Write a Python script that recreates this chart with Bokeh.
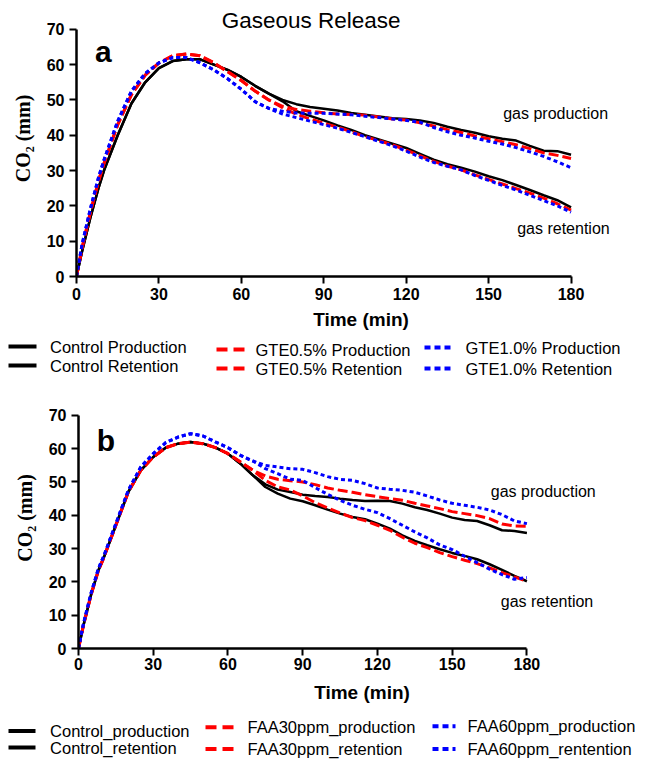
from bokeh.plotting import figure
from bokeh.models import Range1d, FixedTicker, Label
from bokeh.core.properties import value
from bokeh.embed import file_html
from bokeh.resources import INLINE

# ---------------- data ----------------
TIME = [0, 2, 5, 8, 10, 15, 20, 25, 30, 35, 40, 45, 50, 55, 60, 65, 70, 75, 80, 85,
        90, 95, 100, 105, 110, 115, 120, 125, 130, 135, 140, 145, 150, 155, 160, 165,
        170, 175, 180]

# Panel a
A_CTRL_PROD = [0, 7, 16.5, 25, 30, 40, 49, 55, 59, 61, 61.5, 61.5, 60, 58.5, 56.5, 54, 51.8, 50,
               48.8, 48, 47.5, 47, 46.3, 45.8, 45.3, 44.8, 44.6, 44.2, 43.5, 42.4, 41.5, 40.7,
               39.7, 39, 38.5, 37, 35.6, 35.5, 34.5]
A_CTRL_RET = [0, 7, 16.5, 25, 30, 40, 49, 55, 59, 61, 61.5, 61.5, 60, 58.5, 56.5, 54, 51.8, 49.6,
              46.8, 45.5, 44.2, 42.8, 41.5, 40, 38.8, 37.6, 36.4, 34.7, 33.1, 31.8, 30.8, 29.7,
              28.4, 27.3, 25.9, 24.5, 23, 21.6, 19.6]
A_GTE05_PROD = [0, 8, 18, 27, 32, 43, 51.5, 57, 60.5, 62.5, 63, 62.5, 60.5, 58, 55.5, 52.5, 50, 48.2,
                47.3, 46.8, 46.4, 46, 45.9, 45.7, 45.2, 44.6, 44.3, 43.5, 42.6, 41.6, 40.8, 39.8,
                39, 38.2, 37.3, 36.2, 35, 34.3, 33.4]
A_GTE05_RET = [0, 8, 18, 27, 32, 43, 51.5, 57, 60.5, 62.5, 63, 62.5, 60.5, 58, 55.5, 52.5, 50, 47.8,
               46, 44.6, 43.4, 42.3, 41, 39.6, 38.5, 37.3, 35.8, 34.2, 32.6, 31.3, 30.2, 28.8,
               27.5, 26.2, 24.9, 23.6, 22.2, 20.6, 18.8]
A_GTE10_PROD = [0, 9, 19, 28, 33, 44, 52.5, 57.5, 60.5, 62, 62, 60.5, 58.5, 56, 53, 49.5, 47.6, 46.8,
                46.3, 46.2, 46.2, 46, 45.8, 45.4, 45, 44.6, 44.2, 43.7, 42.2, 41, 40, 39.2,
                38.3, 37.5, 36.5, 35.3, 34, 32.5, 30.8]
A_GTE10_RET = [0, 9, 19, 28, 33, 44, 52.5, 57.5, 60.5, 62, 62, 60.5, 58.5, 56, 53, 49.5, 47.6, 46,
               45, 44, 43, 42, 40.8, 39.6, 38.3, 37, 35.5, 33.8, 32.3, 31.2, 30.2, 28.6,
               27.2, 25.8, 24.5, 23, 21.5, 20, 18.2]

# Panel b
B_CTRL_PROD = [0, 7, 16, 23.5, 27, 37, 47, 53.5, 57.5, 60.3, 61.5, 62, 61.5, 60.3, 58.5, 55.5, 52,
               49.3, 47.7, 47, 46.2, 45.8, 45.5, 45, 44.6, 44.3, 44.4, 44.3, 43.5, 42.4, 41.6,
               40.5, 39.3, 38.6, 38.3, 37, 35.5, 35.3, 34.7]
B_CTRL_RET = [0, 7, 16, 23.5, 27, 37, 47, 53.5, 57.5, 60.3, 61.5, 62, 61.5, 60.3, 58.5, 55.5, 52,
              48.5, 46.5, 45, 44.2, 43, 41.7, 40.5, 39.5, 38.8, 37.5, 36, 34, 32.3, 31,
              29.8, 28.7, 27.8, 26.8, 25.3, 23.6, 21.8, 20.2]
B_FAA30_PROD = [0, 7, 16, 23.5, 27, 37, 47, 53.5, 57.5, 60.3, 61.5, 62, 61.5, 60.3, 58.5, 56, 53.5,
                51.8, 50.8, 50.4, 50, 49.2, 48.2, 47.5, 46.9, 46.2, 45.6, 45, 44.5, 43.6, 42.8,
                42, 41.1, 40.5, 39.9, 39, 37.4, 36.8, 36.7]
B_FAA30_RET = [0, 7, 16, 23.5, 27, 37, 47, 53.5, 57.5, 60.3, 61.5, 62, 61.5, 60.3, 58.5, 56, 53.5,
               50.5, 48.5, 47.6, 45.8, 43.8, 42.2, 40.7, 39.3, 38.4, 37, 35.5, 33.4, 31.6, 30.3,
               28.8, 27.6, 26.5, 25.5, 24.2, 22.8, 21.5, 20.2]
B_FAA60_PROD = [0, 7.5, 16.5, 24, 27.5, 37.5, 47.5, 54.5, 58.5, 61.8, 63.5, 64.5, 63.8, 62, 60.3, 58, 56.3,
                55, 54.5, 54, 53.8, 52.8, 51.6, 50.8, 50.5, 49.5, 48.2, 47.8, 47.5, 46.9, 45.8,
                44.6, 43.6, 43, 42.4, 41.6, 40.2, 38.3, 37.5]
B_FAA60_RET = [0, 7.5, 16.5, 24, 27.5, 37.5, 47.5, 54.5, 58.5, 61.8, 63.5, 64.5, 63.8, 62, 60.3, 58, 56.3,
               54, 52.5, 50.8, 50.5, 48.3, 46.3, 44.5, 43, 41.8, 40.8, 39, 37, 35, 33.2,
               31.1, 29.7, 27.7, 25.8, 23.8, 22.2, 20.8, 21.3]

X_TICKS = [0, 30, 60, 90, 120, 150, 180]
Y_TICKS = [0, 10, 20, 30, 40, 50, 60, 70]
X_MAX = 180
Y_MAX = 70

TITLE = "Gaseous Release"
X_LABEL = "Time (min)"
Y_LABEL = "CO\u2082 (mm)"
PANEL_A = "a"
PANEL_B = "b"
NOTE_PROD = "gas production"
NOTE_RET = "gas retention"

LEGEND_A = [["Control Production", "Control Retention"],
            ["GTE0.5% Production", "GTE0.5% Retention"],
            ["GTE1.0% Production", "GTE1.0% Retention"]]
LEGEND_B = [["Control_production", "Control_retention"],
            ["FAA30ppm_production", "FAA30ppm_retention"],
            ["FAA60ppm_production", "FAA60ppm_rentention"]]

SANS = "Liberation Sans"
SERIF = "Liberation Serif"
W = 645

STYLES = [
    dict(line_color="black", line_width=2.5, line_dash="solid"),
    dict(line_color="#ff0000", line_width=3, line_dash="10 4"),
    dict(line_color="#0000ff", line_width=3, line_dash="4 3"),
]
LEG_STYLES = [
    dict(line_color="black", line_width=4, line_dash="solid"),
    dict(line_color="#ff0000", line_width=4, line_dash="11 6"),
    dict(line_color="#0000ff", line_width=4, line_dash="6 4"),
]


def make_panel(height, bl, bb, x_end, y_end, series, lab_stand, ax_stand):
    p = figure(width=W, height=height, output_backend="svg", toolbar_location=None,
               x_range=Range1d(0, x_end), y_range=Range1d(0, y_end),
               min_border_left=bl, min_border_right=0, min_border_top=0,
               min_border_bottom=bb)
    p.outline_line_color = None
    p.grid.visible = False
    p.background_fill_color = "white"
    p.border_fill_color = "white"
    p.xaxis.ticker = FixedTicker(ticks=X_TICKS)
    p.yaxis.ticker = FixedTicker(ticks=Y_TICKS)
    p.xaxis.bounds = (0, X_MAX)
    p.yaxis.bounds = (0, Y_MAX)
    for ax in (p.xaxis[0], p.yaxis[0]):
        ax.axis_line_width = 2.5
        ax.major_tick_line_width = 2
        ax.major_tick_out = 7
        ax.major_tick_in = 0
        ax.minor_tick_out = 0
        ax.minor_tick_in = 0
        ax.major_label_text_font = SANS
        ax.major_label_text_font_style = "bold"
        ax.major_label_text_font_size = "16px"
        ax.major_label_text_color = "black"
        ax.axis_label_text_color = "black"
    p.xaxis.major_label_standoff = lab_stand
    p.yaxis.major_label_standoff = 5
    p.xaxis.axis_label = X_LABEL
    p.xaxis.axis_label_text_font = SANS
    p.xaxis.axis_label_text_font_style = "bold"
    p.xaxis.axis_label_text_font_size = "19px"
    p.xaxis.axis_label_standoff = ax_stand
    p.yaxis.axis_label = Y_LABEL
    p.yaxis.axis_label_text_font = SERIF
    p.yaxis.axis_label_text_font_style = "bold"
    p.yaxis.axis_label_text_font_size = "20px"
    p.yaxis.axis_label_standoff = 10
    for k, ys in enumerate(series):
        for y in ys:
            p.line(TIME, y, line_join="round", **STYLES[k])
    return p


def note(x, y, text, size="16px", bold=False, align="left", baseline="middle"):
    return Label(x=x, y=y, text=text, text_align=align, text_baseline=baseline,
                 text_font=SANS, text_font_size=size, text_color="black",
                 text_font_style="bold" if bold else "normal")


# panel a: frame from x=76 to 645 px, y from 0 to 278 px
figA = make_panel(332, 76, 54, 207.1, 78.16,
                  [[A_CTRL_PROD, A_CTRL_RET], [A_GTE05_PROD, A_GTE05_RET], [A_GTE10_PROD, A_GTE10_RET]],
                  4, 6)
figA.add_layout(note(85.4, 72.5, TITLE, size="22.5px", align="center"))
figA.add_layout(note(6.7, 63.6, PANEL_A, size="30px", bold=True, baseline="alphabetic"))
figA.add_layout(note(155.3, 46.1, NOTE_PROD))
figA.add_layout(note(160.4, 13.7, NOTE_RET))

# panel b: frame from x=78 to 645 px, y from 387 to 649 px
figB = make_panel(318, 78, 56, 227.6, 78.37,
                  [[B_CTRL_PROD, B_CTRL_RET], [B_FAA30_PROD, B_FAA30_RET], [B_FAA60_PROD, B_FAA60_RET]],
                  2, 9)
figB.add_layout(note(7.3, 62.5, PANEL_B, size="30px", bold=True, baseline="alphabetic"))
figB.add_layout(note(165.5, 47.0, NOTE_PROD))
figB.add_layout(note(169.5, 14.1, NOTE_RET))


def make_legend(height, names, line_x, text_x, rows_y):
    p = figure(width=W, height=height, output_backend="svg", toolbar_location=None,
               x_range=Range1d(0, W), y_range=Range1d(height, 0),
               x_axis_type=None, y_axis_type=None, min_border=0)
    p.outline_line_color = None
    p.grid.visible = False
    for k in range(3):
        x0, x1 = line_x[k]
        ys = rows_y[k]
        p.segment(x0=[x0, x0], y0=ys, x1=[x1, x1], y1=ys, **LEG_STYLES[k])
        p.text(x=[text_x[k]] * 2, y=ys, text=names[k], text_font=value(SANS),
               text_font_size="16.5px", text_baseline="middle", text_color="black")
    return p


legA = make_legend(55, LEGEND_A, [(8, 36), (216, 245), (424, 451)], [49.5, 255, 465],
                   [[14, 33], [17, 36], [15, 36]])
legB = make_legend(55, LEGEND_B, [(8, 35), (205, 235), (432, 455)], [49.6, 247, 467],
                   [[25.5, 42], [21.7, 43.5], [20.7, 43.5]])

open("out.html", "w").write(file_html([figA, legA, figB, legB], INLINE))
